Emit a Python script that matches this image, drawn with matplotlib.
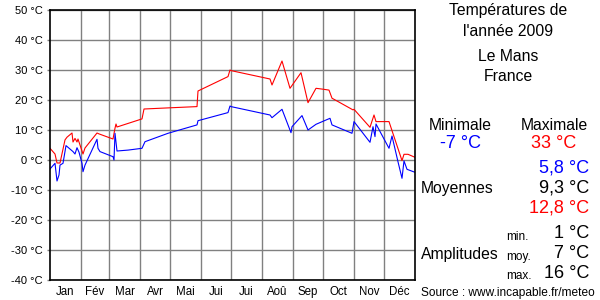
import matplotlib

matplotlib.use("Agg")
import matplotlib.pyplot as plt

plt.rcParams["font.family"] = ["Liberation Sans", "DejaVu Sans"]

# day of year (0..365) and temperature in °C
max_days = [0, 5, 7, 10, 15, 17, 22, 23, 25, 27, 28, 33, 35, 47, 49, 63, 65, 66, 67,
            92, 94, 120, 147, 148, 178, 180, 181, 220, 222, 232, 240, 251, 258, 266,
            273, 279, 282, 303, 304, 320, 324, 326, 339, 352, 354, 358, 365]
max_temps = [3.9, 2, -1, -1, 6.7, 7.6, 9, 6, 7.2, 6, 7, 2, 4, 9, 8.7, 7, 10.6, 12, 11,
             13.7, 17, 17.4, 17.8, 23, 27.8, 30, 29.8, 27, 25, 33, 23.9, 29.1, 19.1, 23.9,
             23.6, 23.3, 20.6, 16.7, 16.9, 10.9, 15, 12.8, 12.8, -0.2, 1.9, 1.9, 0.9]

min_days = [0, 5, 7, 9, 10, 13, 16, 23, 25, 27, 29, 32, 33, 35, 47, 48, 50, 63, 64, 65,
            67, 78, 92, 95, 118, 147, 148, 178, 180, 181, 220, 222, 232, 241, 242, 252,
            258, 266, 280, 282, 302, 304, 320, 323, 325, 326, 339, 342, 348, 352, 354,
            357, 365]
min_temps = [-3, -1.1, -7, -5, -1.7, -1.1, 4.8, 2.8, 2, 4.1, 2.6, -1.1, -3.9, -1.7, 6.9,
             3.9, 2.8, 1.1, 0, 8.9, 3, 3.3, 3.9, 6.1, 8.9, 11.7, 13.1, 15.8, 18, 17.8,
             15, 14.1, 16.9, 9.1, 11.1, 14.8, 10, 11.9, 13.9, 11.7, 8.9, 12.8, 5.9, 11.1,
             7.8, 12, 3.9, 8, -0.6, -6.1, -0.3, -3.1, -4.1]

month_starts = [0, 31, 59, 90, 120, 151, 181, 212, 243, 273, 304, 334, 365]
month_labels = ["Jan", "Fév", "Mar", "Avr", "Mai", "Jui", "Jui", "Aoû", "Sep", "Oct",
                "Nov", "Déc"]
y_ticks = list(range(-40, 51, 10))

fig = plt.figure(figsize=(6, 3), dpi=100)
ax = fig.add_axes([50 / 600, 20 / 300, 365 / 600, 270 / 300])

ax.plot(max_days, max_temps, color="#ff0000", linewidth=0.8)
ax.plot(min_days, min_temps, color="#0000ff", linewidth=0.8)

ax.set_xlim(0, 365)
ax.set_ylim(-40, 50)
ax.set_xticks(month_starts[1:-1])
ax.set_xticklabels([])
mids = [(a + b) / 2 for a, b in zip(month_starts[:-1], month_starts[1:])]
ax.set_xticks(mids, minor=True)
ax.set_xticklabels(month_labels, minor=True, fontsize=8.3)
ax.set_yticks(y_ticks)
ax.set_yticklabels([f"{v} °C" for v in y_ticks], fontsize=8)
ax.tick_params(which="both", axis="x", length=0, pad=4)
ax.tick_params(axis="y", length=2, color="#808080", width=1, pad=3)
ax.grid(True, which="major", color="#808080", linewidth=1.0)
for spine in ax.spines.values():
    spine.set_linewidth(1.2)
    spine.set_color("black")

# right panel
def put(x, y, text, size=11.3, color="black", ha="center"):
    fig.text(x / 600, 1 - y / 300, text, fontsize=size, color=color, ha=ha, va="center")

put(508, 11, "Températures de")
put(508, 31, "l'année 2009")
put(508, 57, "Le Mans")
put(508, 77, "France")
put(460, 125, "Minimale")
put(554, 125, "Maximale")
put(461, 144, "-7 °C", size=13, color="#0000ff")
put(554, 144, "33 °C", size=13, color="#ff0000")
put(589, 168, "5,8 °C", size=13, color="#0000ff", ha="right")
put(589, 188, "9,3 °C", size=13, ha="right")
put(589, 208, "12,8 °C", size=13, color="#ff0000", ha="right")
put(457, 189, "Moyennes")
put(460, 255, "Amplitudes")
put(506, 237, "min.", size=8.5, ha="left")
put(506, 257, "moy.", size=8.5, ha="left")
put(506, 276, "max.", size=8.5, ha="left")
put(589, 233, "1 °C", size=13, ha="right")
put(589, 253, "7 °C", size=13, ha="right")
put(589, 273, "16 °C", size=13, ha="right")
put(508, 293, "Source : www.incapable.fr/meteo", size=8.6)

fig.savefig("out.png", dpi=100)
